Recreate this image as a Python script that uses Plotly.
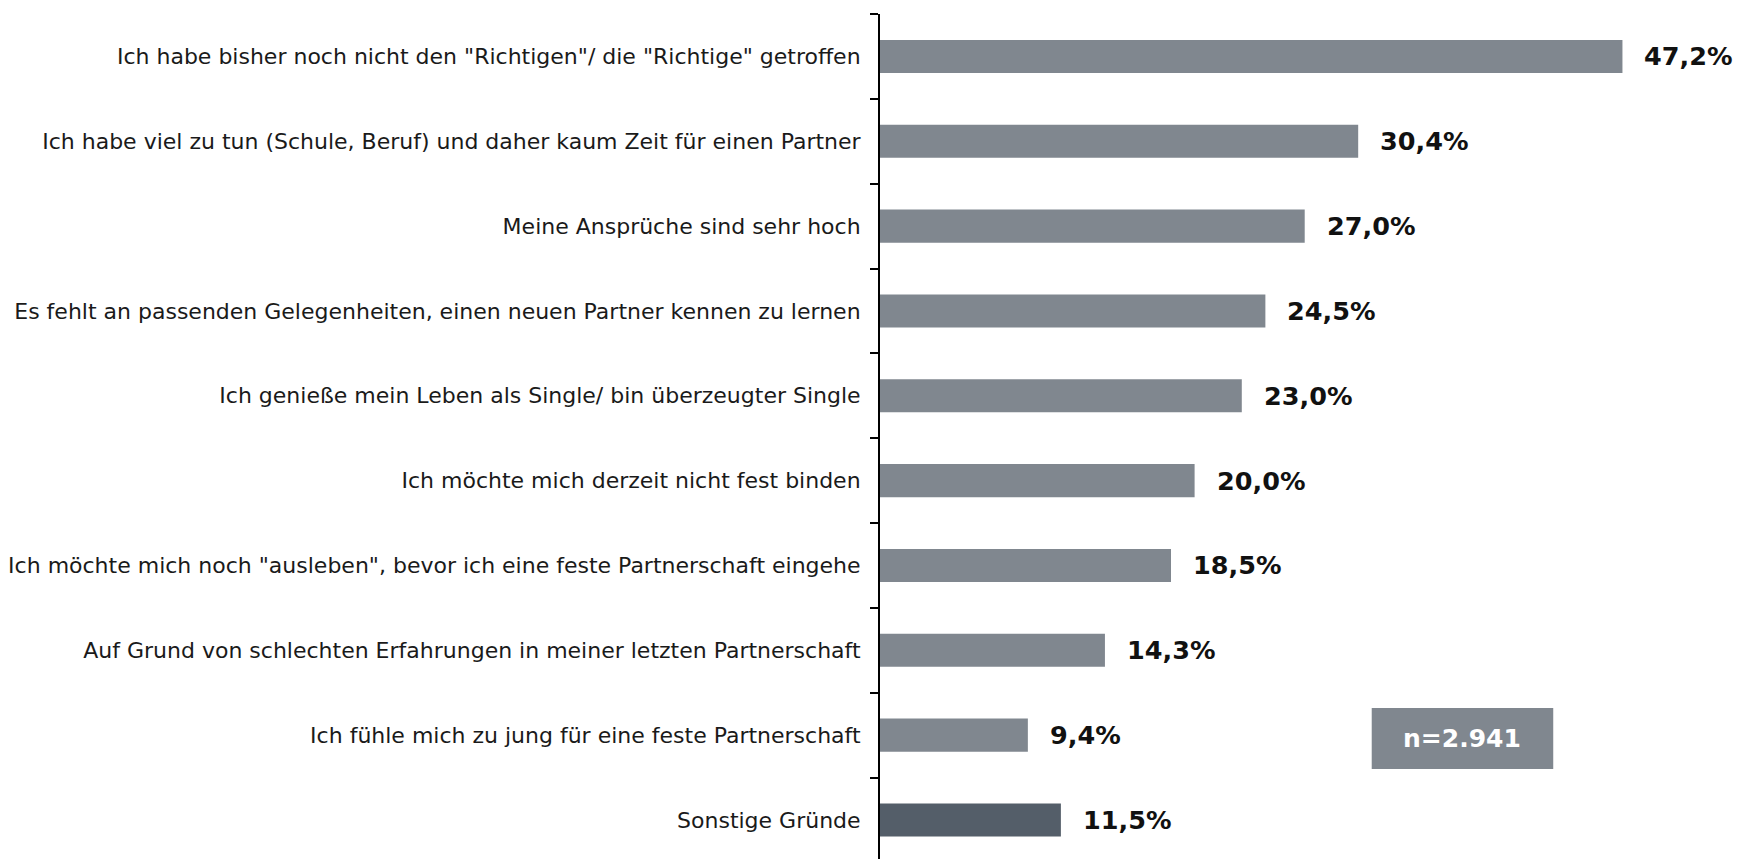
"""
Gründe für das Single-Dasein - horizontal bar chart
"""

import plotly.graph_objects as go
import pandas as pd


df = pd.DataFrame({
    "Grund": [
        "Ich habe bisher noch nicht den \"Richtigen\"/ die \"Richtige\" getroffen",
        "Ich habe viel zu tun (Schule, Beruf) und daher kaum Zeit für einen Partner",
        "Meine Ansprüche sind sehr hoch",
        "Es fehlt an passenden Gelegenheiten, einen neuen Partner kennen zu lernen",
        "Ich genieße mein Leben als Single/ bin überzeugter Single",
        "Ich möchte mich derzeit nicht fest binden",
        "Ich möchte mich noch \"ausleben\", bevor ich eine feste Partnerschaft eingehe",
        "Auf Grund von schlechten Erfahrungen in meiner letzten Partnerschaft",
        "Ich fühle mich zu jung für eine feste Partnerschaft",
        "Sonstige Gründe",
    ],
    "Anteil": [47.2, 30.4, 27.0, 24.5, 23.0, 20.0, 18.5, 14.3, 9.4, 11.5],
})

colors = ["#80878f"] * 9 + ["#545e69"]

fig = go.Figure()

fig.add_trace(
    go.Bar(
        x=df["Anteil"],
        y=df["Grund"],
        orientation="h",
        width=0.39,
        marker=dict(color=colors, line=dict(width=0)),
        hoverinfo="skip",
    )
)

# value labels right of each bar
for grund, anteil in zip(df["Grund"], df["Anteil"]):
    fig.add_annotation(
        x=anteil,
        y=grund,
        text=f"{anteil:.1f}%".replace(".", ","),
        showarrow=False,
        xanchor="left",
        xshift=20,
        font=dict(family="DejaVu Sans", size=25.5, color="#111111", weight="bold"),
    )

# sample size box
fig.add_shape(
    type="rect",
    x0=31.26, x1=42.8, y0=7.68, y1=8.40,
    xref="x", yref="y",
    fillcolor="#80878f",
    line=dict(width=0),
    layer="below",
)
fig.add_annotation(
    x=37.03, y=8.04,
    xref="x", yref="y",
    text="n=2.941",
    showarrow=False,
    font=dict(family="DejaVu Sans", size=25, color="white", weight="bold"),
)

# page body has an 8px margin, so the figure is sized/offset for that
fig.update_layout(
    width=1734,
    height=851,
    margin=dict(l=870, r=0, t=6, b=0),
    plot_bgcolor="white",
    paper_bgcolor="white",
    showlegend=False,
    xaxis=dict(
        range=[0, 54.8],
        visible=False,
    ),
    yaxis=dict(
        type="category",
        categoryorder="array",
        categoryarray=list(df["Grund"]),
        range=[9.46, -0.5],
        autorange=False,
        showline=True,
        linecolor="black",
        linewidth=2,
        ticks="outside",
        tickson="boundaries",
        ticklen=8,
        tickwidth=2,
        tickcolor="black",
        ticklabelstandoff=13,
        showgrid=False,
        tickfont=dict(family="DejaVu Sans", size=22, color="#1a1a1a"),
    ),
)

fig.write_html("out.html")
